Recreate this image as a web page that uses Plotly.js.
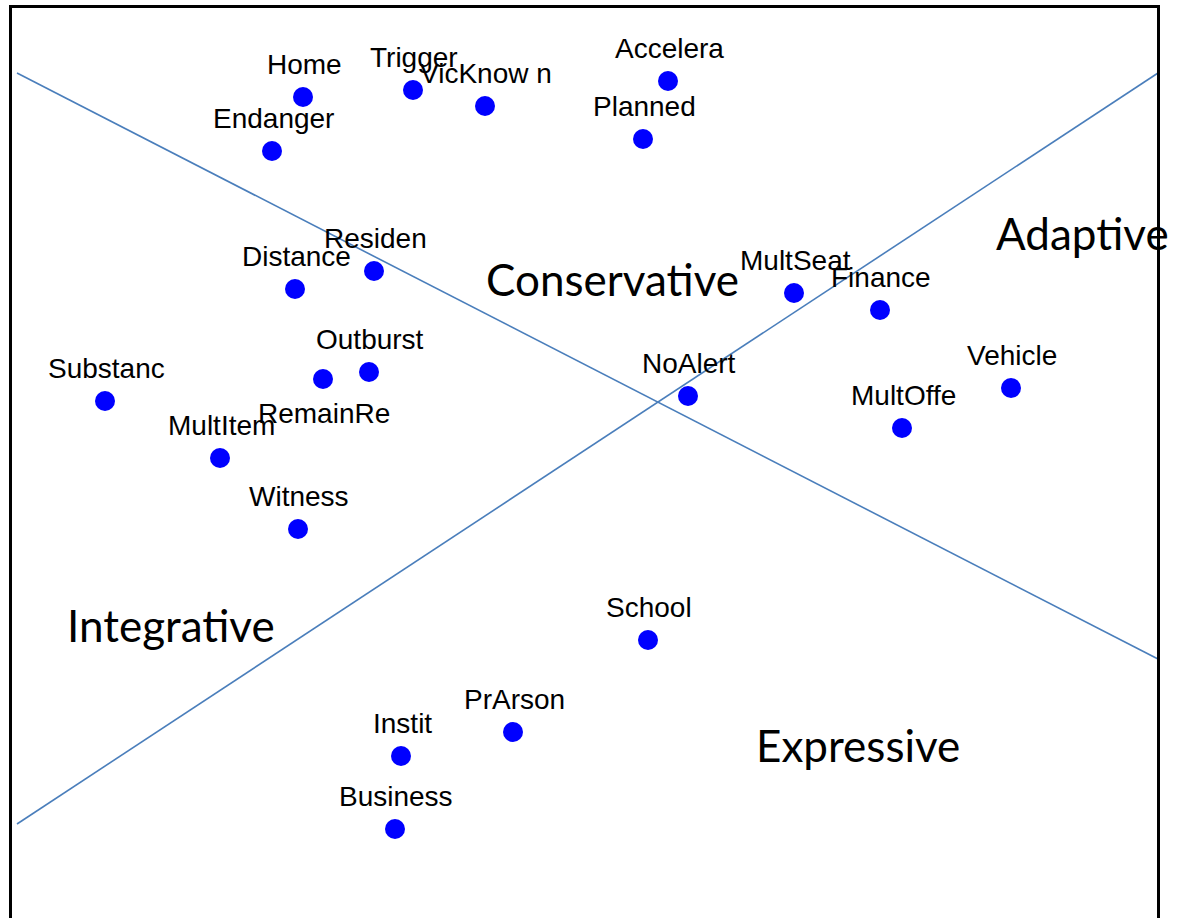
<!DOCTYPE html>
<html>
<head>
<meta charset="utf-8">
<script src="https://cdn.plot.ly/plotly-3.0.1.min.js"></script>
<style>html,body{margin:0;padding:0;background:#fff;}#chart{width:1185px;height:918px;}</style>
</head>
<body>
<div id="chart"></div>
<script>
// Variable labels and their positions on the two dimensions
const labels = ["Home","Trigger","VicKnow n","Accelera","Planned","Endanger","Distance","Residen","MultSeat","Finance","Outburst","RemainRe","Substanc","NoAlert","Vehicle","MultOffe","MultItem","Witness","School","PrArson","Instit","Business"];
const dimX = [303,413,485,668,643,272,295,374,794,880,369,323,105,688,1011,902,220,298,648,513,401,395];
const dimY = [97,90,106,81,139,151,289,271,293,310,372,379,401,396,388,428,458,529,640,732,756,829];
// label below the point (true) or above it (false)
const labelBelow = [false,false,false,false,false,false,false,false,false,false,false,true,false,false,false,false,false,false,false,false,false,false];

// Boundary lines between the regions
const line1X = [17,1158];
const line1Y = [73,659];
const line2X = [17,1158];
const line2Y = [824,73];

// Region names
const regionNames = ["Conservative","Adaptive","Integrative","Expressive"];
const regionX = [612,1082,171,858];
const regionY = [279,233,625,745];

const lineColor = '#4a7ebb';
const traces = [
  {x: line1X, y: line1Y, mode: 'lines', line: {color: lineColor, width: 1.6}, hoverinfo: 'skip'},
  {x: line2X, y: line2Y, mode: 'lines', line: {color: lineColor, width: 1.6}, hoverinfo: 'skip'},
  {x: dimX, y: dimY, mode: 'markers', text: labels,
   marker: {color: '#0000ff', size: 20, line: {width: 0}}, hoverinfo: 'text'}
];

const annotations = [];
labels.forEach((t, i) => {
  annotations.push({
    x: dimX[i], y: dimY[i], xref: 'x', yref: 'y', text: t, showarrow: false,
    xshift: 1, yshift: labelBelow[i] ? -34 : 33,
    font: {family: 'Liberation Sans, Arial, sans-serif', size: 28, color: '#000'}
  });
});
regionNames.forEach((t, i) => {
  annotations.push({
    x: regionX[i], y: regionY[i], xref: 'x', yref: 'y', text: t, showarrow: false,
    font: {family: 'Lato, Carlito, Calibri, sans-serif', size: 44, color: '#000'}
  });
});

const layout = {
  width: 1185, height: 918,
  margin: {l: 0, r: 0, t: 0, b: 0},
  paper_bgcolor: '#fff', plot_bgcolor: '#fff',
  showlegend: false,
  xaxis: {range: [0, 1185], visible: false, fixedrange: true},
  yaxis: {range: [918, 0], visible: false, fixedrange: true},
  shapes: [{type: 'rect', xref: 'x', yref: 'y', x0: 10.5, x1: 1158.5, y0: 6.5, y1: 930,
            line: {color: '#000', width: 3}, fillcolor: 'rgba(0,0,0,0)', layer: 'above'}],
  annotations: annotations
};

Plotly.newPlot('chart', traces, layout, {displayModeBar: false, staticPlot: true});
</script>
</body>
</html>
